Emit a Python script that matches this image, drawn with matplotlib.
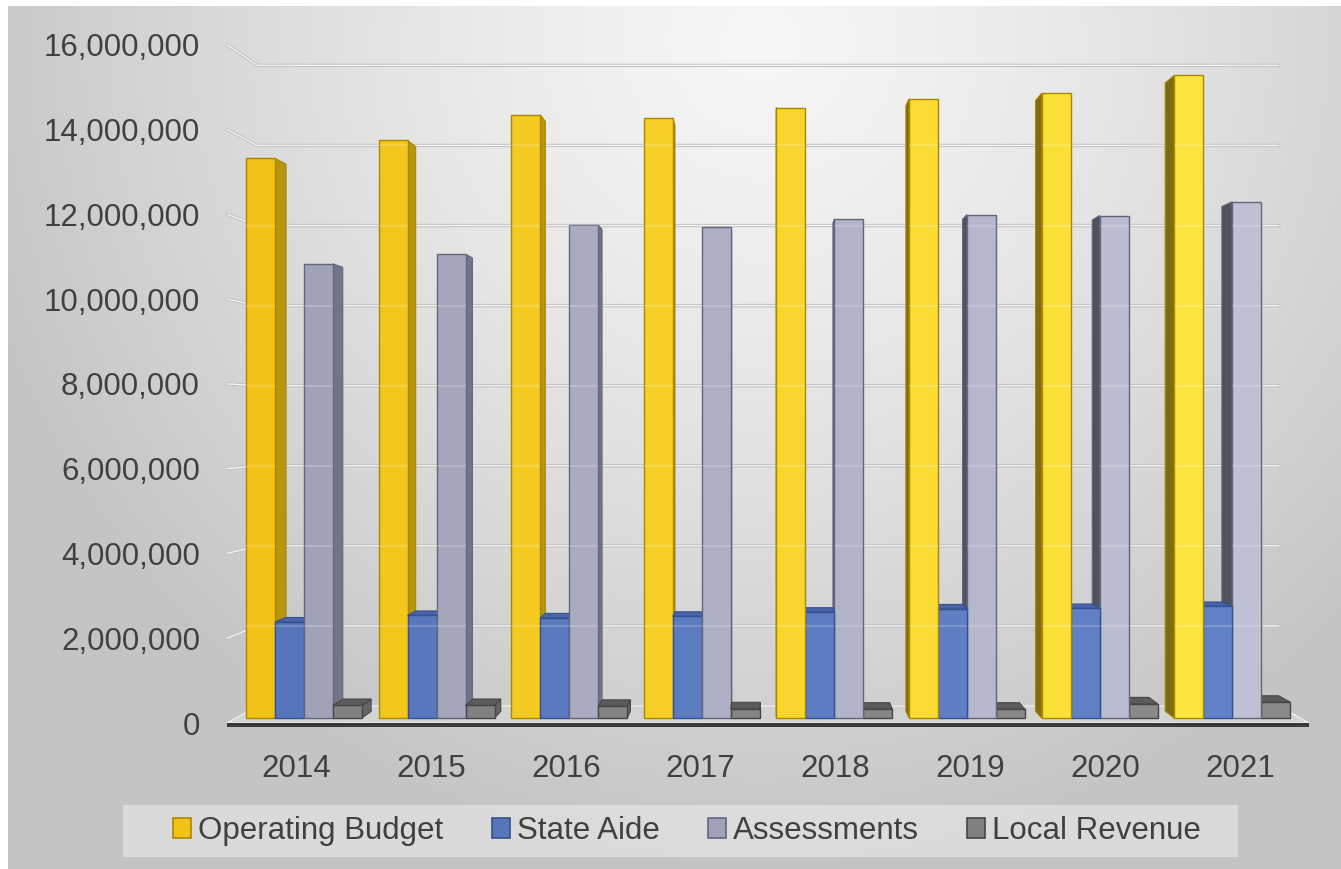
import numpy as np
import matplotlib
matplotlib.use("Agg")
import matplotlib.pyplot as plt
from matplotlib.patches import Polygon, Patch, Rectangle
from matplotlib.colors import to_rgb

plt.rcParams["font.family"] = ["Liberation Sans", "DejaVu Sans"]

# ---------------------------------------------------------------- data
years = ["2014", "2015", "2016", "2017", "2018", "2019", "2020", "2021"]
operating_budget = [13_420_000, 13_850_000, 14_470_000, 14_380_000,
                    14_640_000, 14_850_000, 14_980_000, 15_410_000]
state_aide = [2_300_000, 2_460_000, 2_400_000, 2_440_000,
              2_540_000, 2_620_000, 2_630_000, 2_680_000]
assessments = [10_890_000, 11_120_000, 11_820_000, 11_770_000,
               11_970_000, 12_070_000, 12_050_000, 12_380_000]
local_revenue = [300_000, 300_000, 280_000, 220_000,
                 210_000, 210_000, 340_000, 380_000]
series_names = ["Operating Budget", "State Aide", "Assessments", "Local Revenue"]
y_ticks = [0, 2_000_000, 4_000_000, 6_000_000, 8_000_000,
           10_000_000, 12_000_000, 14_000_000, 16_000_000]

series_values = [operating_budget, state_aide, assessments, local_revenue]

# ---------------------------------------------------------------- styles
# front colour goes from left-hand to right-hand shade across the years
styles = [
    dict(front=("#F2C116", "#FCE53E"), side_r="#B8950F", side_l="#7E6B12",
         top="#E0B512", edge="#A98700"),
    dict(front=("#5775BB", "#6282C8"), side_r="#3D5899", side_l="#34477E",
         top="#4865AC", edge="#34508F"),
    dict(front=("#A0A3B8", "#BEC1D4"), side_r="#72758A", side_l="#4F525E",
         top="#8A8DA2", edge="#62667A"),
    dict(front=("#808080", "#8A8A8A"), side_r="#646464", side_l="#555555",
         top="#5C5C5C", edge="#464646"),
]
TEXT = "#404040"
FS = 22.5


def mix(c1, c2, t):
    a, b = np.array(to_rgb(c1)), np.array(to_rgb(c2))
    return tuple(a + (b - a) * t)


W, H = 1341, 869
fig = plt.figure(figsize=(W / 100, H / 100), dpi=100)
fig.patch.set_facecolor("white")

# ---------------------------------------------------------------- background
bg = fig.add_axes([0, 0, 1, 1], zorder=0)
bg.set_xlim(0, W)
bg.set_ylim(H, 0)
bg.axis("off")
yy, xx = np.mgrid[6:H, 8:W].astype(float)
r = np.sqrt(((xx - 760) / 820) ** 2 + ((yy - 40) / 830) ** 2)
t = np.clip(r, 0, 1) ** 1.3
light, dark = 0.965, 0.77
g = light + (dark - light) * t
bg.imshow(np.dstack([g, g, g]), extent=(8, W, H, 6), aspect="auto",
          interpolation="bilinear")
bg.add_patch(Rectangle((123, 805), 1115, 52, facecolor="white", alpha=0.38,
                       edgecolor="none"))

# ---------------------------------------------------------------- main axes
PX_CAT = 132.6          # pixels per category
PX_VAL = 41.7e-6        # pixels per unit of value at the bar plane
X0_PX, Y0_PX = 304, 718  # pixel position of category 0 / value 0
ax_l, ax_r, ax_t, ax_b = 220, 1320, 30, 740
ax = fig.add_axes([ax_l / W, 1 - ax_b / H, (ax_r - ax_l) / W, (ax_b - ax_t) / H],
                  zorder=1)
ax.set_xlim((ax_l - X0_PX) / PX_CAT, (ax_r - X0_PX) / PX_CAT)
ax.set_ylim((Y0_PX - ax_b) / PX_VAL, (Y0_PX - ax_t) / PX_VAL)
ax.patch.set_alpha(0)
for s in ax.spines.values():
    s.set_visible(False)

# one-point perspective: vanishing point and plane scales
VX = (770 - X0_PX) / PX_CAT
VY = (Y0_PX - 416) / PX_VAL
S_FRONT = 1.0166      # front edge of walls / floor
S_BACK = 0.9601       # back wall
S_BAR = 0.9777        # rear face of each column


def proj(x, y, s):
    return (VX + s * (x - VX), VY + s * (y - VY))


n_ser = len(series_values)
bar_w = 0.2187
group_w = bar_w * n_ser
margin = 0.075
x_lo = -group_w / 2 - margin
x_hi = len(years) - 1 + group_w / 2 + margin

# floor
floor = [proj(x_lo, 0, S_FRONT), proj(x_hi, 0, S_FRONT),
         proj(x_hi, 0, S_BACK), proj(x_lo, 0, S_BACK)]
ax.add_patch(Polygon(floor, closed=True, facecolor="#d3d3d3",
                     edgecolor="#ececec", lw=1.0, zorder=2))
fy = proj(x_lo, 0, S_FRONT)[1]
ax.add_patch(Polygon([proj(x_lo, 0, S_FRONT), proj(x_hi, 0, S_FRONT),
                      (proj(x_hi, 0, S_FRONT)[0], fy - 0.095e6),
                      (proj(x_lo, 0, S_FRONT)[0], fy - 0.095e6)],
                     closed=True, facecolor="#3a3a3a", edgecolor="none",
                     zorder=2.1))

# gridlines on the back wall and the left side wall
grid_back_y = [proj(x_lo, v, S_BACK)[1] for v in y_ticks[1:]]
for v in y_ticks[1:]:
    xs = [proj(x_lo, v, S_FRONT)[0], proj(x_lo, v, S_BACK)[0],
          proj(x_hi, v, S_BACK)[0]]
    ys = [proj(x_lo, v, S_FRONT)[1], proj(x_lo, v, S_BACK)[1],
          proj(x_hi, v, S_BACK)[1]]
    ax.plot(xs, ys, color="#c2c2c2", lw=2.4, solid_capstyle="round",
            solid_joinstyle="round", zorder=1.5)
    ax.plot(xs, ys, color="#f6f6f6", lw=0.9, solid_capstyle="round",
            solid_joinstyle="round", zorder=1.6)

# ---------------------------------------------------------------- columns
offsets = [(-n_ser / 2 + j) * bar_w for j in range(n_ser)]
containers = []
for j, vals in enumerate(series_values):
    st = styles[j]
    lefts = [i + offsets[j] for i in range(len(years))]
    fronts = [mix(st["front"][0], st["front"][1], i / (len(years) - 1))
              for i in range(len(years))]
    bc = ax.bar(lefts, vals, width=bar_w, align="edge", color=fronts,
                edgecolor=st["edge"], linewidth=1.0,
                label=series_names[j])
    containers.append(bc)

# paint from the columns farthest from the vanishing line inwards
order = []
for j, vals in enumerate(series_values):
    for i, v in enumerate(vals):
        xl = i + offsets[j]
        order.append((abs(xl + bar_w / 2 - VX), i, j, xl, v))
order.sort(key=lambda o: -o[0])

z = 3.0
for _, i, j, xl, h in order:
    st = styles[j]
    xr = xl + bar_w
    if xr < VX:
        side = [(xr, 0), (xr, h), proj(xr, h, S_BAR), proj(xr, 0, S_BAR)]
        ax.add_patch(Polygon(side, closed=True, facecolor=st["side_r"],
                             edgecolor=st["edge"], lw=0.8, zorder=z))
    elif xl > VX:
        side = [(xl, 0), (xl, h), proj(xl, h, S_BAR), proj(xl, 0, S_BAR)]
        ax.add_patch(Polygon(side, closed=True, facecolor=st["side_l"],
                             edgecolor=st["edge"], lw=0.8, zorder=z))
    if h < VY:
        top = [(xl, h), (xr, h), proj(xr, h, S_BAR), proj(xl, h, S_BAR)]
        ax.add_patch(Polygon(top, closed=True, facecolor=st["top"],
                             edgecolor=st["edge"], lw=0.8, zorder=z + 0.1))
    front = containers[j].patches[i]
    front.set_zorder(z + 0.2)
    # back-wall gridlines faintly showing through the translucent front
    lines = ax.hlines(grid_back_y, xl, xr, colors="white", alpha=0.17,
                      lw=1.6, zorder=z + 0.25)
    lines.set_clip_path(front)
    z += 0.3

# ---------------------------------------------------------------- axes text
ax.set_yticks([proj(x_lo, v, S_FRONT)[1] for v in y_ticks],
              labels=[f"{v:,}" for v in y_ticks])
ax.set_xticks([proj(i, 0, S_FRONT)[0] for i in range(len(years))],
              labels=years)
ax.tick_params(axis="y", length=0, pad=14.4, labelsize=FS, labelcolor=TEXT)
ax.tick_params(axis="x", length=0, pad=10, labelsize=FS, labelcolor=TEXT)

handles = [Patch(facecolor=st["front"][0], edgecolor=st["edge"], lw=1.2)
           for st in styles]
fig.legend(handles, series_names, loc="center",
           bbox_to_anchor=(687 / W, 1 - 831 / H), ncol=4, frameon=False,
           fontsize=FS, labelcolor=TEXT, handlelength=0.58, handleheight=0.58,
           handletextpad=0.22, columnspacing=1.55, borderaxespad=0)

fig.savefig("out.png", dpi=100)
